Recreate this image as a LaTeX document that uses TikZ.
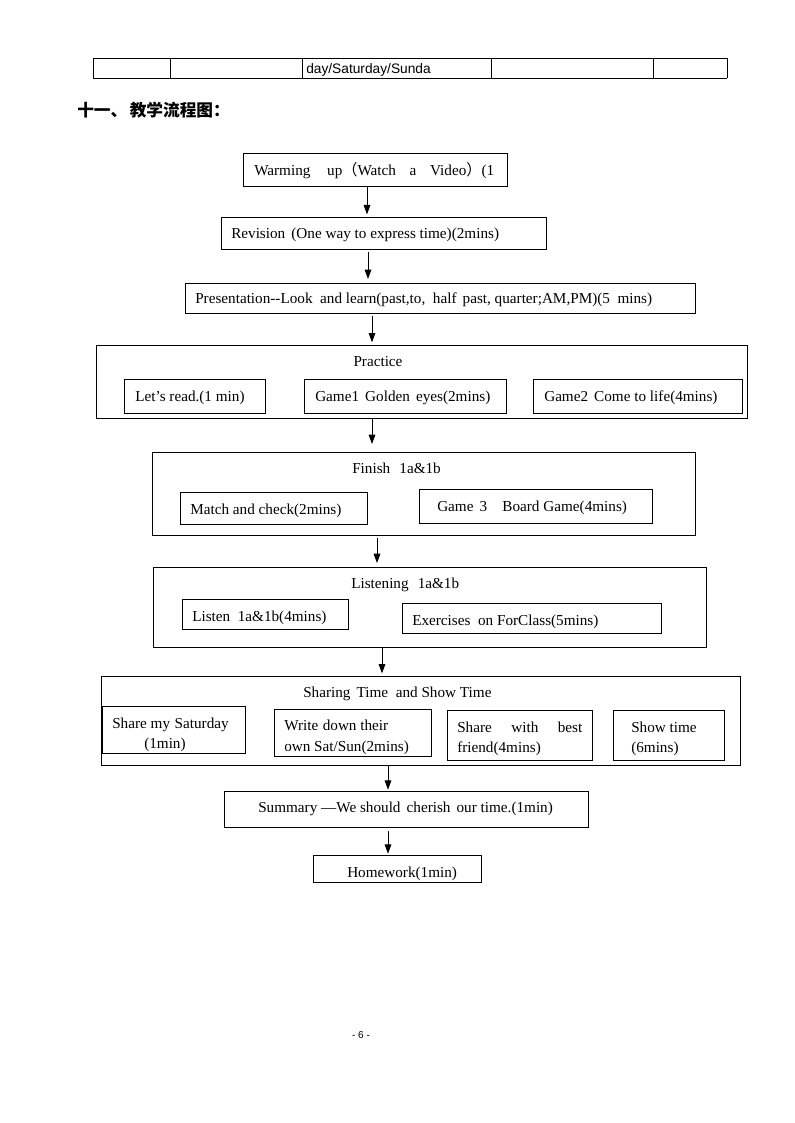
\documentclass[tikz,border=0pt]{standalone}
\usepackage{fontspec}
\setmainfont{Liberation Serif}
\newfontfamily\cjkb{Noto Sans CJK SC}
\newfontfamily\tblfont{Liberation Sans}
\usetikzlibrary{arrows.meta}
\tikzset{
  box/.style={draw, line width=0.65pt, inner sep=0pt, outer sep=0pt, rectangle},
  txt/.style={inner sep=0pt, anchor=west, font=\fontsize{11.4}{13}\selectfont, text height=8pt, text depth=2pt, yshift=-1.2pt},
  ctxt/.style={txt, anchor=center},
  arr/.style={line width=0.65pt, -{Triangle[length=7pt,width=5pt]}},
  tline/.style={line width=0.6pt}
}
\newcommand\bx[5]{\node[box, minimum width={(#4-#2)*0.75pt}, minimum height={(#5-#3)*0.75pt}] (#1) at ({(#2+#4)/2},{(#3+#5)/2}) {};}
\begin{document}
\begin{tikzpicture}[x=0.75pt,y=-0.75pt]
\useasboundingbox (0,0) rectangle (794,1123);
% table fragment
\draw[tline] (93,58) -- (727,58) (93,78) -- (727,78);
\foreach \xx in {93,170,302,491,653,727} \draw[tline] (\xx,58) -- (\xx,78);
\node[inner sep=0pt, anchor=west, font=\tblfont\fontsize{10.3}{11}\selectfont] (tcell) at (306,69.5) {day/Saturday/Sunda};
% heading
\node[inner sep=0pt, anchor=west, font=\cjkb\bfseries\fontsize{12.5}{14}\selectfont] (head) at (77,110) {十一、\hspace{0.15em}教学流程图：};
% x coordinates for arrows
\coordinate (xa) at (367,0);
\coordinate (xb) at (368,0);
\coordinate (xc) at (372,0);
\coordinate (xd) at (377,0);
\coordinate (xe) at (382,0);
\coordinate (xf) at (388,0);
% boxes
\bx{warm}{243}{153}{507}{186}
\bx{rev}{221}{217}{546}{249}
\bx{pres}{185}{283}{695}{313}
\bx{prac}{96}{345}{747}{418}
\bx{read}{124}{379}{265}{413}
\bx{gone}{304}{379}{506}{413}
\bx{gtwo}{533}{379}{742}{413}
\bx{fin}{152}{452}{695}{535}
\bx{match}{180}{492}{367}{524}
\bx{gthree}{419}{489}{652}{523}
\bx{lis}{153}{567}{706}{647}
\bx{listen}{182}{599}{348}{629}
\bx{exer}{402}{603}{661}{633}
\bx{share}{101}{676}{740}{765}
\bx{mysat}{102}{706}{245}{753}
\bx{write}{274}{709}{431}{756}
\bx{best}{447}{710}{592}{760}
\bx{show}{613}{710}{724}{760}
\bx{summ}{224}{791}{588}{827}
\bx{home}{313}{855}{481}{882}
% texts
\node[txt] (t1) at (254,170) {Warming\hspace{1.1em}up{\cjkb （}Watch\hspace{0.9em}a\hspace{0.9em}Video{\cjkb ）}(1};
\node[txt] (t2) at (231,233) {Revision\hspace{0.4em}(One way to express time)(2mins)};
\node[txt] (t3) at (195,298) {Presentation-{}-Look\hspace{0.5em}and learn(past,to,\hspace{0.5em}half\hspace{0.4em}past, quarter;AM,PM)(5\hspace{0.5em}mins)};
\node[ctxt] (t4) at (378,361) {Practice};
\node[txt] (t5) at (135,396) {Let’s read.(1 min)};
\node[txt] (t6) at (315,396) {Game1\hspace{0.4em}Golden\hspace{0.4em}eyes(2mins)};
\node[txt] (t7) at (544,396) {Game2\hspace{0.4em}Come to life(4mins)};
\node[txt] (t8) at (352,468) {Finish\hspace{0.6em}1a\&1b};
\node[txt] (t9) at (190,509) {Match and check(2mins)};
\node[txt] (t10) at (437,506) {Game\hspace{0.4em}3\hspace{1em}Board Game(4mins)};
\node[txt] (t11) at (351,583) {Listening\hspace{0.6em}1a\&1b};
\node[txt] (t12) at (192,616) {Listen\hspace{0.5em}1a\&1b(4mins)};
\node[txt] (t13) at (412,620) {Exercises\hspace{0.5em}on ForClass(5mins)};
\node[txt] (t14) at (303,692) {Sharing\hspace{0.4em}Time\hspace{0.5em}and Show Time};
\node[txt] (t15) at (112,723) {Share my\hspace{0.3em}Saturday};
\node[txt] (t16) at (144,743) {(1min)};
\node[txt] (t17) at (284,725) {Write\hspace{0.3em}down their};
\node[txt] (t18) at (284,746) {own Sat/Sun(2mins)};
\node[txt, text width=125*0.75pt] (t19) at (457,727) {Share\hfill with\hfill best};
\node[txt] (t20) at (457,747) {friend(4mins)};
\node[txt] (t21) at (631,727) {Show time};
\node[txt] (t22) at (631,747) {(6mins)};
\node[txt] (t23) at (258,807) {Summary —We should\hspace{0.4em}cherish\hspace{0.4em}our time.(1min)};
\node[txt] (t24) at (347,872) {Homework(1min)};
% page number
\node[inner sep=0pt, font=\tblfont\fontsize{7.5}{8}\selectfont] (pg) at (361,1035) {- 6 -};
% arrows
\draw[arr] (warm.south -| xa) -- ([yshift=2pt]rev.north -| xa);
\draw[arr] ([yshift=-2pt]rev.south -| xb) -- ([yshift=3pt]pres.north -| xb);
\draw[arr] ([yshift=-2pt]pres.south -| xc) -- ([yshift=2pt]prac.north -| xc);
\draw[arr] (prac.south -| xc) -- ([yshift=6pt]fin.north -| xc);
\draw[arr] ([yshift=-2pt]fin.south -| xd) -- ([yshift=3pt]lis.north -| xd);
\draw[arr] (lis.south -| xe) -- ([yshift=2pt]share.north -| xe);
\draw[arr] (share.south -| xf) -- ([yshift=1pt]summ.north -| xf);
\draw[arr] ([yshift=-3pt]summ.south -| xf) -- ([yshift=1pt]home.north -| xf);
\end{tikzpicture}
\end{document}
